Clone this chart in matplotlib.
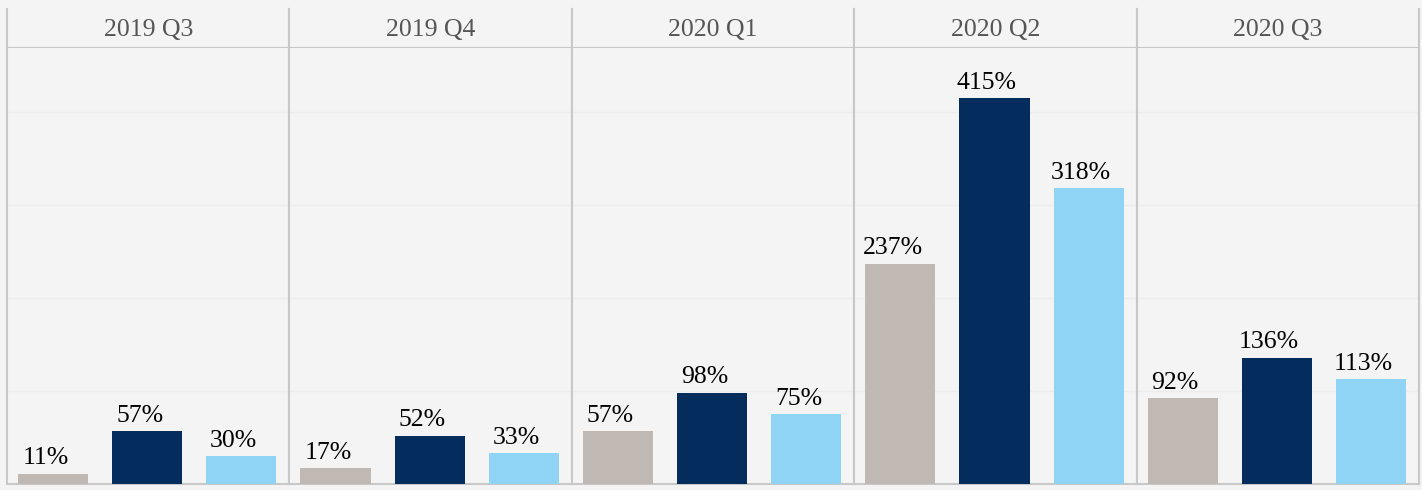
import matplotlib.pyplot as plt
import numpy as np

quarters = ["2019 Q3", "2019 Q4", "2020 Q1", "2020 Q2", "2020 Q3"]
series_a = [11, 17, 57, 237, 92]     # gray
series_b = [57, 52, 98, 415, 136]    # navy
series_c = [30, 33, 75, 318, 113]    # light blue

colors = ["#c0b8b3", "#042d5e", "#8fd3f5"]
bg = "#f4f4f4"
line_col = "#c8c8c8"

plt.rcParams["font.family"] = ["Liberation Serif", "DejaVu Serif"]

W, H = 1422, 490
fig = plt.figure(figsize=(W / 100, H / 100), dpi=100, facecolor=bg)

left_px, right_px = 7, 1419
top_px, head_px, bottom_px = 9, 48, 484
panel_w = (right_px - left_px) / len(quarters)

for i, q in enumerate(quarters):
    x0 = (left_px + i * panel_w) / W
    w = panel_w / W
    # header cell
    hax = fig.add_axes([x0, 1 - head_px / H, w, (head_px - top_px) / H])
    hax.set_facecolor(bg)
    hax.set_xticks([])
    hax.set_yticks([])
    hax.spines["top"].set_visible(False)
    for s in ("left", "right", "bottom"):
        hax.spines[s].set_color(line_col)
        hax.spines[s].set_linewidth(1.5)
    hax.text(0.5, 0.47, q, ha="center", va="center", fontsize=18.5,
             color="#555555", transform=hax.transAxes)

    # bars
    ax = fig.add_axes([x0, (H - bottom_px) / H, w, (bottom_px - head_px) / H])
    ax.set_facecolor(bg)
    vals = [series_a[i], series_b[i], series_c[i]]
    xs = np.arange(3)
    bars = ax.bar(xs, vals, width=0.745, color=colors, zorder=3)
    for b, v in zip(bars, vals):
        ax.annotate(f"{v}%", (b.get_x() + b.get_width() / 2, b.get_height()),
                    xytext=(-5.5, 6.8), textcoords="offset points",
                    ha="center", va="baseline", fontsize=18.5, color="black")
    ax.set_xlim(-0.49, 2.51)
    ax.set_ylim(0, 469)
    for gy in (100, 200, 300, 400):
        ax.axhline(gy, color="#ececec", linewidth=1, zorder=1)
    ax.set_xticks([])
    ax.set_yticks([])
    ax.spines["top"].set_visible(False)
    for s in ("left", "right", "bottom"):
        ax.spines[s].set_color(line_col)
        ax.spines[s].set_linewidth(1.5)

fig.savefig("out.png", dpi=100, facecolor=bg)
